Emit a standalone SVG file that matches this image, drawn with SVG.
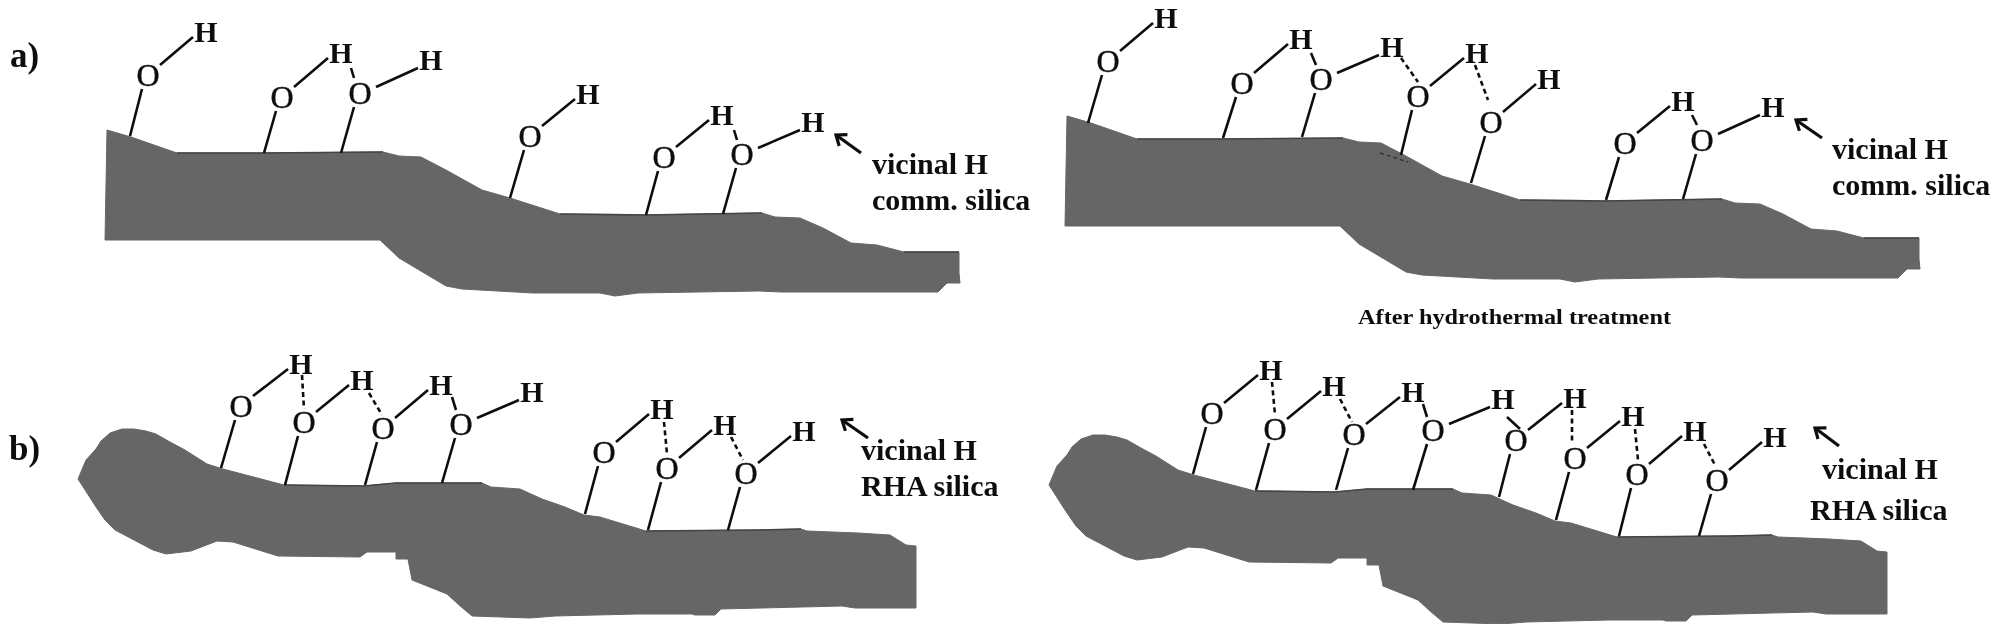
<svg xmlns="http://www.w3.org/2000/svg" xmlns:xlink="http://www.w3.org/1999/xlink" width="2000" height="634" viewBox="0 0 2000 634">
<style>
text{font-family:"Liberation Serif","Times New Roman",serif;fill:#111}
.o{font-size:32px;text-anchor:middle;stroke:#111;stroke-width:.4px}
.h{font-size:30px;font-weight:bold;text-anchor:middle}
.t{font-size:30px;font-weight:bold}
.p{font-size:35px;font-weight:bold}
.slab{fill:#666;stroke:#666;stroke-width:1px}
.edge{stroke:#444;stroke-width:1.6px;fill:none}
.b{stroke:#111;stroke-width:2.6px;fill:none}
.d{stroke:#111;stroke-width:2.6px;stroke-dasharray:5 3.5;fill:none}
.a{stroke:#111;stroke-width:3.2px;fill:none;marker-end:url(#open)}
</style>
<defs>
<filter id="soft" x="0" y="0" width="100%" height="100%"><feGaussianBlur stdDeviation="0.55"/></filter>
<marker id="open" markerUnits="userSpaceOnUse" markerWidth="24" markerHeight="24" refX="14" refY="12" orient="auto"><path d="M5 5L14 12L5 19" fill="none" stroke="#111" stroke-width="3.2"/></marker>
<g id="slabA">
<polygon class="slab" points="107,130 131,137 177,153 261,153 383,152 399,156 421,157 446,170 482,190 510,198 560,214 644,215 762,213 775,217 800,218 823,228 851,243 877,245 904,252 959,252 959,273 960,283 947,283 938,292 781,292 759,291 638,293 615,296 600,293 533,293 462,289 446,286 399,258 380,240 105,240"/>
<path class="edge" d="M177 153L261 153L383 152M560 214L644 215L762 213M904 252L959 252"/>
</g>
<g id="slabB">
<polygon class="slab" points="78,479 86,460 96,449 101,441 110,433 122,429 134,429 146,431 156,434 170,442 185,450 207,464 223,469 284,485 364,486 396,483 482,483 491,487 520,489 542,499 565,507 584,515 600,517 646,531 759,530 801,529 807,531 858,533 890,535 906,545 916,546 916,608 855,608 842,606 721,609 715,615 695,615 692,614 638,614 555,616 530,618 472,616 459,605 447,594 412,580 408,559 396,559 396,552 367,552 360,557 278,556 233,542 217,541 191,551 166,554 153,550 115,530 105,520 96,507"/>
<path class="edge" d="M284 485L364 486L396 483L482 483M646 531L759 530L801 529"/>
</g>
</defs>
<rect width="2000" height="634" fill="#fff"/>
<g filter="url(#soft)">
<g id="surfaces">
<use id="surface-a-left" xlink:href="#slabA" href="#slabA"/>
<use id="surface-a-right" xlink:href="#slabA" href="#slabA" transform="translate(960,-14)"/>
<use id="surface-b-left" xlink:href="#slabB" href="#slabB"/>
<use id="surface-b-right" xlink:href="#slabB" href="#slabB" transform="translate(971,6)"/>
</g>
<g id="connectors">
<path class="b" d="M142 89L130 136M276 111L264 153M354 107L341 153M524 150L510 198M658 171L646 215M736 168L723 214M160 65L193 37M294 87L328 58M376 87L418 68M542 126L575 99M676 147L709 120M758 148L800 130M351 68L354 78M734 130L737 140"/>
<path class="b" d="M1102 75L1088 123M1120 51L1153 23M1236 97L1223 138M1254 73L1288 44M1315 93L1302 137M1337 73L1379 55M1412 110L1401 155M1430 86L1464 58M1485 136L1471 183M1503 112L1536 84M1619 157L1606 200M1637 133L1670 106M1696 154L1683 199M1718 134L1760 115M1311 53L1316 65M1692 115L1697 125"/>
<path class="d" d="M1401 58L1418 82M1475 65L1488 100"/>
<path class="b" d="M235 420L221 468M253 396L288 369M298 436L285 485M316 412L349 385M377 442L365 485M395 418L428 390M455 438L442 483M477 418L519 400M598 466L585 514M616 442L649 414M661 482L648 530M679 458L712 430M740 487L728 530M758 463L791 436M452 397L456 410"/>
<path class="d" d="M302 375L304 409M369 393L382 415M664 422L667 454M731 437L743 460"/>
<path class="b" d="M1206 427L1193 474M1224 403L1258 375M1269 443L1256 490M1287 419L1321 391M1348 448L1336 490M1366 424L1400 397M1427 444L1413 490M1449 424L1490 407M1510 454L1499 497M1528 430L1562 403M1569 472L1556 520M1587 448L1620 421M1631 488L1619 536M1649 464L1682 436M1711 494L1699 536M1729 470L1762 442M1507 417L1520 429M1423 404L1427 417"/>
<path class="d" d="M1272 382L1275 415M1340 399L1352 422M1572 410L1572 444M1635 429L1638 460M1704 444L1715 465"/>
<path class="a" d="M861 153L836 135"/>
<path class="a" d="M1822 138L1796 120"/>
<path class="a" d="M868 438L842 420"/>
<path class="a" d="M1839 446L1815 428"/>
<path stroke="#333" stroke-width="1.5" stroke-dasharray="4 3" fill="none" d="M1380 153L1408 162"/>
</g>
<g id="a-left-oh1"><text class="o" x="148" y="86">O</text><text class="h" x="206" y="42">H</text></g>
<g id="a-left-oh2"><text class="o" x="282" y="108">O</text><text class="h" x="341" y="63">H</text></g>
<g id="a-left-oh3"><text class="o" x="360" y="104">O</text><text class="h" x="431" y="70">H</text></g>
<g id="a-left-oh4"><text class="o" x="530" y="147">O</text><text class="h" x="588" y="104">H</text></g>
<g id="a-left-oh5"><text class="o" x="664" y="168">O</text><text class="h" x="722" y="125">H</text></g>
<g id="a-left-oh6"><text class="o" x="742" y="165">O</text><text class="h" x="813" y="132">H</text></g>
<g id="a-right-oh1"><text class="o" x="1108" y="72">O</text><text class="h" x="1166" y="28">H</text></g>
<g id="a-right-oh2"><text class="o" x="1242" y="94">O</text><text class="h" x="1301" y="49">H</text></g>
<g id="a-right-oh3"><text class="o" x="1321" y="90">O</text><text class="h" x="1392" y="57">H</text></g>
<g id="a-right-oh4"><text class="o" x="1418" y="107">O</text><text class="h" x="1477" y="63">H</text></g>
<g id="a-right-oh5"><text class="o" x="1491" y="133">O</text><text class="h" x="1549" y="89">H</text></g>
<g id="a-right-oh6"><text class="o" x="1625" y="154">O</text><text class="h" x="1683" y="111">H</text></g>
<g id="a-right-oh7"><text class="o" x="1702" y="151">O</text><text class="h" x="1773" y="117">H</text></g>
<g id="b-left-oh1"><text class="o" x="241" y="417">O</text><text class="h" x="301" y="374">H</text></g>
<g id="b-left-oh2"><text class="o" x="304" y="433">O</text><text class="h" x="362" y="390">H</text></g>
<g id="b-left-oh3"><text class="o" x="383" y="439">O</text><text class="h" x="441" y="395">H</text></g>
<g id="b-left-oh4"><text class="o" x="461" y="435">O</text><text class="h" x="532" y="402">H</text></g>
<g id="b-left-oh5"><text class="o" x="604" y="463">O</text><text class="h" x="662" y="419">H</text></g>
<g id="b-left-oh6"><text class="o" x="667" y="479">O</text><text class="h" x="725" y="435">H</text></g>
<g id="b-left-oh7"><text class="o" x="746" y="484">O</text><text class="h" x="804" y="441">H</text></g>
<g id="b-right-oh1"><text class="o" x="1212" y="424">O</text><text class="h" x="1271" y="380">H</text></g>
<g id="b-right-oh2"><text class="o" x="1275" y="440">O</text><text class="h" x="1334" y="396">H</text></g>
<g id="b-right-oh3"><text class="o" x="1354" y="445">O</text><text class="h" x="1413" y="402">H</text></g>
<g id="b-right-oh4"><text class="o" x="1433" y="441">O</text><text class="h" x="1503" y="409">H</text></g>
<g id="b-right-oh5"><text class="o" x="1516" y="451">O</text><text class="h" x="1575" y="408">H</text></g>
<g id="b-right-oh6"><text class="o" x="1575" y="469">O</text><text class="h" x="1633" y="426">H</text></g>
<g id="b-right-oh7"><text class="o" x="1637" y="485">O</text><text class="h" x="1695" y="441">H</text></g>
<g id="b-right-oh8"><text class="o" x="1717" y="491">O</text><text class="h" x="1775" y="447">H</text></g>
<g id="labels">
<text class="p" x="10" y="67">a)</text>
<text class="p" x="9" y="460">b)</text>
<text class="t" x="872" y="174">vicinal H</text>
<text class="t" x="872" y="210">comm. silica</text>
<text class="t" x="1832" y="159">vicinal H</text>
<text class="t" x="1832" y="195">comm. silica</text>
<text class="t" x="861" y="460">vicinal H</text>
<text class="t" x="861" y="496">RHA silica</text>
<text class="t" x="1822" y="479">vicinal H</text>
<text class="t" x="1810" y="520">RHA silica</text>
<text x="1358" y="324" font-size="21" font-weight="bold" textLength="313" lengthAdjust="spacingAndGlyphs">After hydrothermal treatment</text>
</g>
</g>
</svg>
